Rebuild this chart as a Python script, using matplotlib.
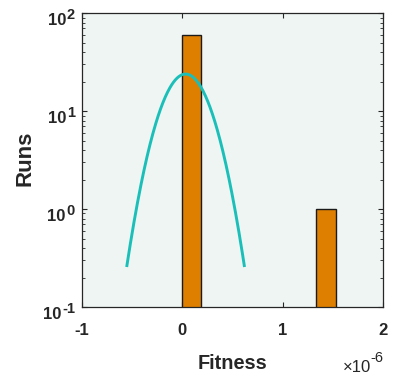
import numpy as np
import matplotlib
matplotlib.use("Agg")
import matplotlib.pyplot as plt
import matplotlib.transforms as mtransforms
from matplotlib.ticker import FixedLocator, LogLocator, NullFormatter

plt.rcParams['font.family'] = ['Liberation Sans', 'DejaVu Sans']

# Histogram of run fitness values (8 bins)
bin_width = 0.191e-6
bin_edges = np.arange(9) * bin_width
bin_counts = [60, 0, 0, 0, 0, 0, 0, 1]

# Normal distribution fitted to the runs
fit_mu = 0.0325e-6
fit_sigma = 0.195e-6
n_runs = sum(bin_counts)

x_ticks = [-1e-6, 0, 1e-6, 2e-6]
x_tick_labels = ['-1', '0', '1', '2']
y_ticks = [0.1, 1, 10, 100]
y_tick_exponents = ['-1', '0', '1', '2']

text_color = '#262626'
fig = plt.figure(figsize=(4.01, 3.83), dpi=100)
ax = fig.add_axes([0.2045, 0.1984, 0.7506, 0.7676])
ax.set_facecolor('#EFF5F2')

ax.bar(bin_edges[:-1], bin_counts, width=bin_width, align='edge',
       color='#DF7F00', edgecolor='#1a1a1a', linewidth=1.0, zorder=2)

xf = np.linspace(fit_mu - 3 * fit_sigma, fit_mu + 3 * fit_sigma, 200)
yf = n_runs * bin_width / (fit_sigma * np.sqrt(2 * np.pi)) * np.exp(-0.5 * ((xf - fit_mu) / fit_sigma) ** 2)
ax.plot(xf, yf, color='#1BBFB9', linewidth=2.1, zorder=3)

ax.set_yscale('log')
ax.set_xlim(-1e-6, 2e-6)
ax.set_ylim(0.1, 100)

ax.xaxis.set_major_locator(FixedLocator(x_ticks))
ax.set_xticklabels(x_tick_labels)
ax.yaxis.set_major_locator(FixedLocator(y_ticks))
ax.yaxis.set_major_formatter(NullFormatter())
ax.yaxis.set_minor_locator(LogLocator(base=10, subs=np.arange(2, 10)))
ax.yaxis.set_minor_formatter(NullFormatter())

ax.tick_params(which='both', direction='in', top=True, right=True,
               colors=text_color, labelsize=12)
ax.tick_params(which='major', length=3.5, width=0.8)
ax.tick_params(axis='x', which='major', pad=11.5)
ax.tick_params(which='minor', length=2, width=0.6)
for lbl in ax.get_xticklabels():
    lbl.set_fontweight('bold')
for s in ax.spines.values():
    s.set_color(text_color)
    s.set_linewidth(0.9)

ax.set_xlabel('Fitness', fontsize=14.3, fontweight='bold', color=text_color)
ax.xaxis.set_label_coords(0.5, -0.211)
ax.xaxis.label.set_verticalalignment('baseline')
ax.set_ylabel('Runs', fontsize=16, fontweight='bold', color=text_color)
ax.yaxis.set_label_coords(-0.189, 0.507)
ax.yaxis.label.set_verticalalignment('center')
ax.yaxis.label.set_horizontalalignment('center')

# Power-of-ten tick labels with large superscripts
renderer = fig.canvas.get_renderer()
ytrans = mtransforms.blended_transform_factory(ax.transAxes, ax.transData)
for v, e in zip(y_ticks, y_tick_exponents):
    t_exp = ax.text(0, v, e, fontsize=10.5, fontweight='bold', color=text_color,
                    ha='right', va='baseline',
                    transform=mtransforms.offset_copy(ytrans, fig=fig, x=-7, y=-5.5, units='dots'))
    w = t_exp.get_window_extent(renderer).width
    ax.text(0, v, '10', fontsize=12, fontweight='bold', color=text_color,
            ha='right', va='baseline',
            transform=mtransforms.offset_copy(ytrans, fig=fig, x=-7 - w - 1, y=-11.5, units='dots'))

# Axis multiplier below the x axis
t_exp = ax.text(1.0, 0, '-6', fontsize=10.5, color=text_color, ha='right', va='baseline',
                transform=mtransforms.offset_copy(ax.transAxes, fig=fig, x=0, y=-55, units='dots'))
w = t_exp.get_window_extent(renderer).width
ax.text(1.0, 0, '\u00d710', fontsize=12, color=text_color, ha='right', va='baseline',
        transform=mtransforms.offset_copy(ax.transAxes, fig=fig, x=-w + 1, y=-65, units='dots'))

fig.savefig('out.png', dpi=100, facecolor='white')
